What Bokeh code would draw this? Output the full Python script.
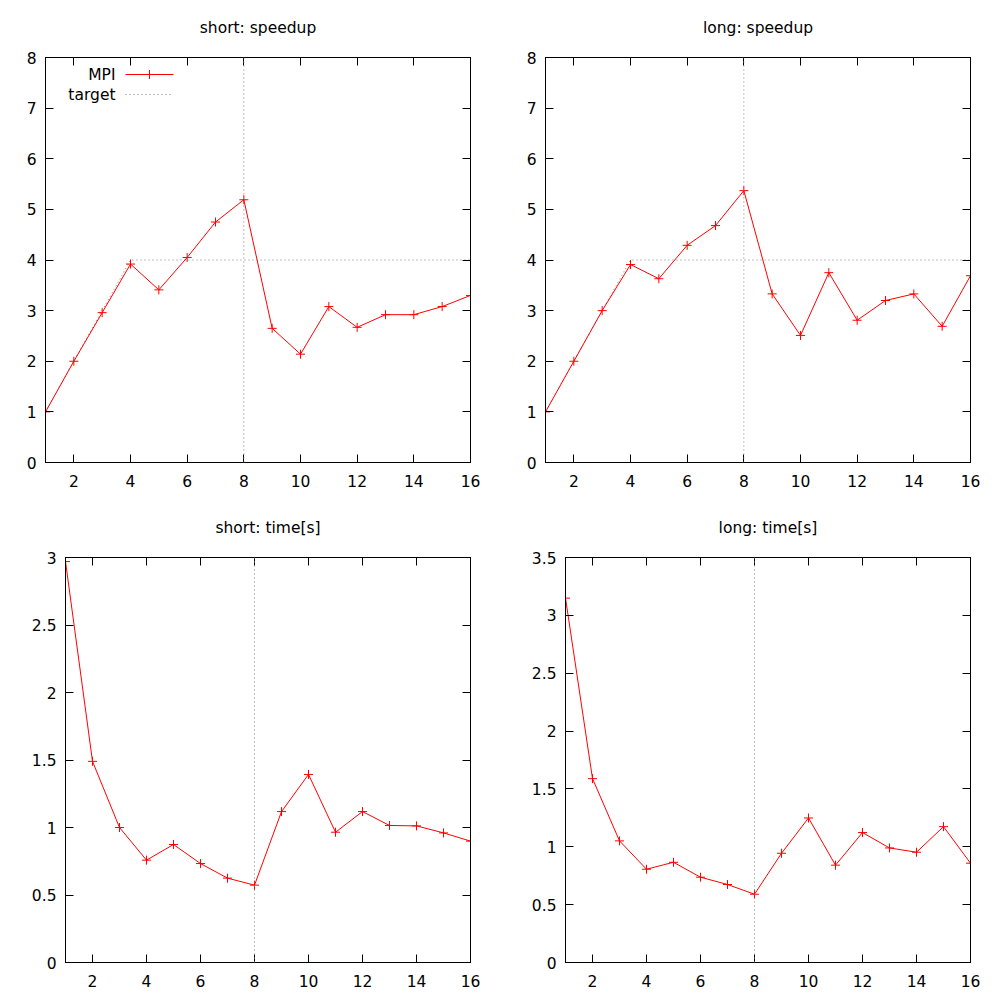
from bokeh.plotting import figure
from bokeh.models import Range1d, LinearAxis, FixedTicker, Span, Label, Arrow, CustomLabelingPolicy
from bokeh.layouts import column, row
from bokeh.embed import file_html
from bokeh.resources import INLINE

# ---------------- data ----------------
procs = list(range(1, 17))
short_speedup = [1.0, 2.0, 2.96, 3.92, 3.41, 4.05, 4.75, 5.19, 2.65, 2.14, 3.08, 2.67, 2.92, 2.92, 3.08, 3.30]
long_speedup = [1.0, 2.0, 3.0, 3.91, 3.63, 4.29, 4.68, 5.37, 3.33, 2.51, 3.75, 2.81, 3.20, 3.33, 2.69, 3.69]
short_time = [2.97, 1.49, 1.0, 0.758, 0.874, 0.733, 0.625, 0.573, 1.118, 1.393, 0.965, 1.118, 1.015, 1.012, 0.96, 0.899]
long_time = [3.149, 1.589, 1.051, 0.806, 0.866, 0.737, 0.674, 0.590, 0.944, 1.249, 0.841, 1.123, 0.990, 0.953, 1.174, 0.858]
target = [1, 2, 3, 4, 4, 4, 4, 4, 4, 4, 4, 4, 4, 4, 4, 4]
cores_per_node = 8

x_ticks = [2, 4, 6, 8, 10, 12, 14, 16]
x_labels = ["2", "4", "6", "8", "10", "12", "14", "16"]
speedup_ticks = [0, 1, 2, 3, 4, 5, 6, 7, 8]
speedup_labels = ["0", "1", "2", "3", "4", "5", "6", "7", "8"]
short_time_ticks = [0, 0.5, 1, 1.5, 2, 2.5, 3]
short_time_labels = ["0", "0.5", "1", "1.5", "2", "2.5", "3"]
long_time_ticks = [0, 0.5, 1, 1.5, 2, 2.5, 3, 3.5]
long_time_labels = ["0", "0.5", "1", "1.5", "2", "2.5", "3", "3.5"]

titles = ["short: speedup", "long: speedup", "short: time[s]", "long: time[s]"]
legend_labels = ["MPI", "target"]

FONT = "DejaVu Sans"
FS = "15.5px"
GRAY = "#808080"
DOT = "1 3"

NO_LABELS = """
const n = indices.size
for (let i = 0; i < n; i++) indices.unset(i)
return indices
"""


def style_axis(ax, ticks, labels, show):
    ax.ticker = FixedTicker(ticks=ticks)
    ax.major_label_overrides = {t: l for t, l in zip(ticks, labels)}
    ax.major_tick_in = 8
    ax.major_tick_out = 0
    ax.minor_tick_in = 0
    ax.minor_tick_out = 0
    ax.axis_line_color = "black"
    ax.axis_line_width = 1
    ax.major_tick_line_color = "black"
    ax.major_tick_line_width = 1
    ax.major_label_text_font = FONT
    ax.major_label_text_font_size = FS
    ax.major_label_text_color = "black"
    ax.major_label_standoff = 9
    if not show:
        ax.major_label_policy = CustomLabelingPolicy(code=NO_LABELS)
        ax.major_label_standoff = 0


def make(title, ys, yticks, ylabels, ymax, tgt, borders, fw):
    L, R, T, B = borders
    p = figure(frame_width=fw, frame_height=405,
               min_border_left=L, min_border_right=R, min_border_top=T, min_border_bottom=B,
               x_range=Range1d(1, 16), y_range=Range1d(0, ymax),
               output_backend="svg", toolbar_location=None,
               x_axis_location=None, y_axis_location=None)
    p.grid.visible = False
    p.outline_line_color = "black"
    p.outline_line_width = 1
    p.background_fill_color = "white"
    p.border_fill_color = "white"

    bx = LinearAxis(); style_axis(bx, x_ticks, x_labels, True); bx.major_label_standoff = 12
    p.add_layout(bx, "below")
    ly = LinearAxis(); style_axis(ly, yticks, ylabels, True); p.add_layout(ly, "left")
    tx = LinearAxis(); style_axis(tx, x_ticks, x_labels, False); p.add_layout(tx, "above")
    ry = LinearAxis(); style_axis(ry, yticks, ylabels, False); p.add_layout(ry, "right")

    p.title.text = title
    p.title.align = "center"
    p.title.text_font = FONT
    p.title.text_font_size = FS
    p.title.text_font_style = "normal"
    p.title.text_color = "black"
    p.title.standoff = 12

    if tgt is not None:
        p.line(procs, tgt, line_color=GRAY, line_dash=DOT, line_width=1)
    p.add_layout(Span(location=cores_per_node, dimension="height", line_color=GRAY,
                      line_dash=DOT, line_width=1))
    p.line(procs, ys, line_color="red", line_width=1)
    p.scatter(procs, ys, marker="cross", size=9, line_color="red", line_width=1)
    return p


p1 = make(titles[0], short_speedup, speedup_ticks, speedup_labels, 8, target, (45, 30, 57, 38), 425)
p2 = make(titles[1], long_speedup, speedup_ticks, speedup_labels, 8, target, (45, 25, 57, 38), 425)
p3 = make(titles[2], short_time, short_time_ticks, short_time_labels, 3, None, (65, 30, 57, 33), 405)
p4 = make(titles[3], long_time, long_time_ticks, long_time_labels, 3.5, None, (65, 25, 57, 33), 405)

# legend (gnuplot style: text first, sample after)
for lab, yy in zip(legend_labels, [388, 368]):
    p1.add_layout(Label(x=70, y=yy, x_units="screen", y_units="screen", text=lab,
                        text_align="right", text_baseline="middle",
                        text_font=FONT, text_font_size=FS, text_color="black"))
p1.add_layout(Arrow(end=None, start=None, x_start=80, y_start=388, x_end=128, y_end=388,
                    start_units="screen", end_units="screen", line_color="#ff0000", line_width=1))
p1.add_layout(Arrow(end=None, start=None, x_start=104, y_start=383.5, x_end=104, y_end=392.5,
                    start_units="screen", end_units="screen", line_color="#ff0000", line_width=1))
p1.add_layout(Arrow(end=None, start=None, x_start=80, y_start=368, x_end=125, y_end=368,
                    start_units="screen", end_units="screen", line_color=GRAY,
                    line_dash=DOT, line_width=1))

layout = column(row(p1, p2, spacing=0), row(p3, p4, spacing=0), spacing=0)

open("out.html", "w").write(file_html(layout, INLINE))
